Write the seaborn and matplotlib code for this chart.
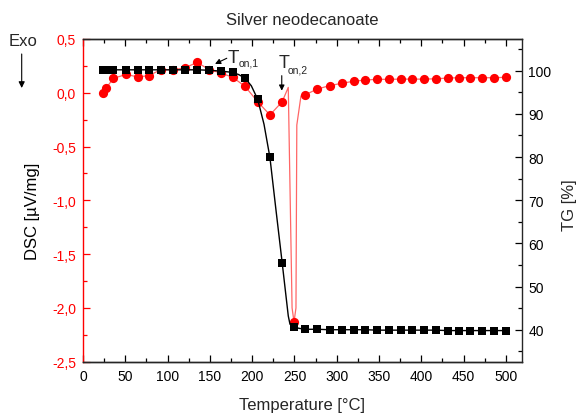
import matplotlib
matplotlib.use("Agg")
import matplotlib.pyplot as plt
from matplotlib.ticker import MultipleLocator, FuncFormatter
import pandas as pd
import seaborn as sns

# Sampled measurement points (temperature in °C)
temperature = [24, 27, 36, 51, 65, 78, 92, 106, 120, 135, 149, 163, 177, 191.5,
               206.5, 221, 235.5, 249.5, 263, 277, 291.5, 305.8, 320, 334, 348,
               362, 375.6, 389.5, 403, 417, 431, 444.5, 458, 472, 486, 499.6]
# Thermogravimetry, mass in %
tg_mass = [100.2, 100.2, 100.2, 100.2, 100.2, 100.2, 100.2, 100.2, 100.2, 100.2,
           100.1, 99.9, 99.6, 98.3, 93.4, 79.9, 55.5, 40.6, 40.1, 40.1, 40.0,
           40.0, 40.0, 40.0, 39.9, 39.9, 39.9, 39.9, 39.9, 39.9, 39.8, 39.8,
           39.8, 39.8, 39.8, 39.8]
# Differential scanning calorimetry, µV/mg
dsc_signal = [0.0, 0.04, 0.135, 0.17, 0.147, 0.16, 0.215, 0.215, 0.23, 0.283,
              0.215, 0.184, 0.144, 0.06, -0.083, -0.206, -0.083, -2.13, -0.018,
              0.035, 0.066, 0.088, 0.107, 0.119, 0.125, 0.125, 0.127, 0.127,
              0.127, 0.13, 0.137, 0.14, 0.14, 0.14, 0.14, 0.144]

# Additional trace points between samples (decomposition step / sharp peak)
tg_step_temp = [184, 199, 214, 228, 240, 242.7, 244.7, 247, 256]
tg_step_mass = [99.1, 96.5, 87.6, 68.0, 47.8, 43.2, 41.3, 40.8, 40.3]
dsc_peak_temp = [242.7, 247.2, 251.8, 252.8, 257.7]
dsc_peak_signal = [0.05, -2.0, -2.0, -0.3, -0.03]

RED = "#ff0000"

sns.set_style("ticks")
plt.rcParams["font.family"] = ["Liberation Sans", "DejaVu Sans"]

samples = pd.DataFrame({"T": temperature, "TG": tg_mass, "DSC": dsc_signal})
tg_trace = pd.concat([samples[["T", "TG"]],
                      pd.DataFrame({"T": tg_step_temp, "TG": tg_step_mass})]
                     ).sort_values("T")
dsc_trace = pd.concat([samples[["T", "DSC"]],
                       pd.DataFrame({"T": dsc_peak_temp, "DSC": dsc_peak_signal})]
                      ).sort_values("T")

fig, ax = plt.subplots(figsize=(5.79, 4.14), dpi=100)
fig.subplots_adjust(left=0.1434, right=0.9007, top=0.9034, bottom=0.1239)
ax2 = ax.twinx()

# DSC curve (left axis)
sns.lineplot(data=dsc_trace, x="T", y="DSC", ax=ax, color=RED, lw=0.9,
             alpha=0.6, estimator=None, sort=False)
sns.scatterplot(data=samples, x="T", y="DSC", ax=ax, color=RED, marker="o",
                s=44, linewidth=0, zorder=3)

# TG curve (right axis)
sns.lineplot(data=tg_trace, x="T", y="TG", ax=ax2, color="black", lw=1.0,
             estimator=None, sort=False)
sns.scatterplot(data=samples, x="T", y="TG", ax=ax2, color="black", marker="s",
                s=30, linewidth=0, zorder=3)

# Axis ranges and ticks
ax.set_xlim(0, 518.5)
ax.set_ylim(-2.5, 0.5)
ax2.set_ylim(32.59, 107.34)

ax.xaxis.set_major_locator(MultipleLocator(50))
ax.xaxis.set_minor_locator(MultipleLocator(25))
ax.yaxis.set_major_locator(MultipleLocator(0.5))
ax.yaxis.set_minor_locator(MultipleLocator(0.25))
ax.yaxis.set_major_formatter(FuncFormatter(lambda v, p: f"{v:.1f}".replace(".", ",")))
ax2.yaxis.set_major_locator(MultipleLocator(10))
ax2.yaxis.set_minor_locator(MultipleLocator(5))

ax.tick_params(axis="x", which="both", direction="in", top=True, bottom=True,
               colors="black", labelsize=10, pad=5, width=0.9)
ax.tick_params(axis="y", which="both", direction="in", colors=RED,
               labelcolor=RED, labelsize=10, pad=5, width=0.9)
ax2.tick_params(axis="y", which="both", direction="in", colors="black",
                labelsize=10, pad=5, width=0.9)
for a in (ax, ax2):
    a.tick_params(which="major", length=4.8)
    a.tick_params(which="minor", length=2.9)

for side in ("top", "bottom", "left"):
    ax.spines[side].set_linewidth(1.0)
ax.spines["left"].set_color(RED)
ax.spines["right"].set_visible(False)
ax2.spines["left"].set_visible(False)
ax2.spines["right"].set_linewidth(1.0)
for side in ("top", "bottom"):
    ax2.spines[side].set_linewidth(1.0)

ax.set_xlabel("Temperature [°C]", fontsize=12)
ax.xaxis.set_label_coords(0.5, -0.108)
ax.set_ylabel("DSC [µV/mg]", fontsize=12, color="black")
ax.yaxis.set_label_coords(-0.098, 0.47)
ax2.set_ylabel("TG [%]", fontsize=12)
ax2.yaxis.set_label_coords(1.092, 0.489)
ax.set_title("Silver neodecanoate", fontsize=12, pad=10.8)

# Exothermic direction marker
fig.text(23 / 579, 1 - 41 / 414, "Exo", ha="center", va="center", fontsize=12)
ax.annotate("", xy=(21.7 / 579, 1 - 89 / 414), xytext=(21.7 / 579, 1 - 55 / 414),
            xycoords="figure fraction", textcoords="figure fraction",
            arrowprops=dict(arrowstyle="-|>", color="black", lw=0.8,
                            mutation_scale=9, shrinkA=0, shrinkB=0))

# Onset temperatures
arrow_style = dict(arrowstyle="-|>", color="black", lw=0.8, mutation_scale=8,
                   shrinkA=0, shrinkB=0)
ax.annotate("", xy=(156.1, 0.268), xytext=(170.0, 0.321), arrowprops=arrow_style)
ax.text(171.5, 0.282, "T", fontsize=13.5, ha="left", va="baseline")
ax.text(183.8, 0.258, "on,1", fontsize=7.5, ha="left", va="baseline")

ax.annotate("", xy=(235.0, 0.0195), xytext=(235.0, 0.159), arrowprops=arrow_style)
ax.text(231.8, 0.24, "T", fontsize=13, ha="left", va="baseline")
ax.text(241.9, 0.184, "on,2", fontsize=7.5, ha="left", va="baseline")

fig.savefig("out.png", dpi=100)
